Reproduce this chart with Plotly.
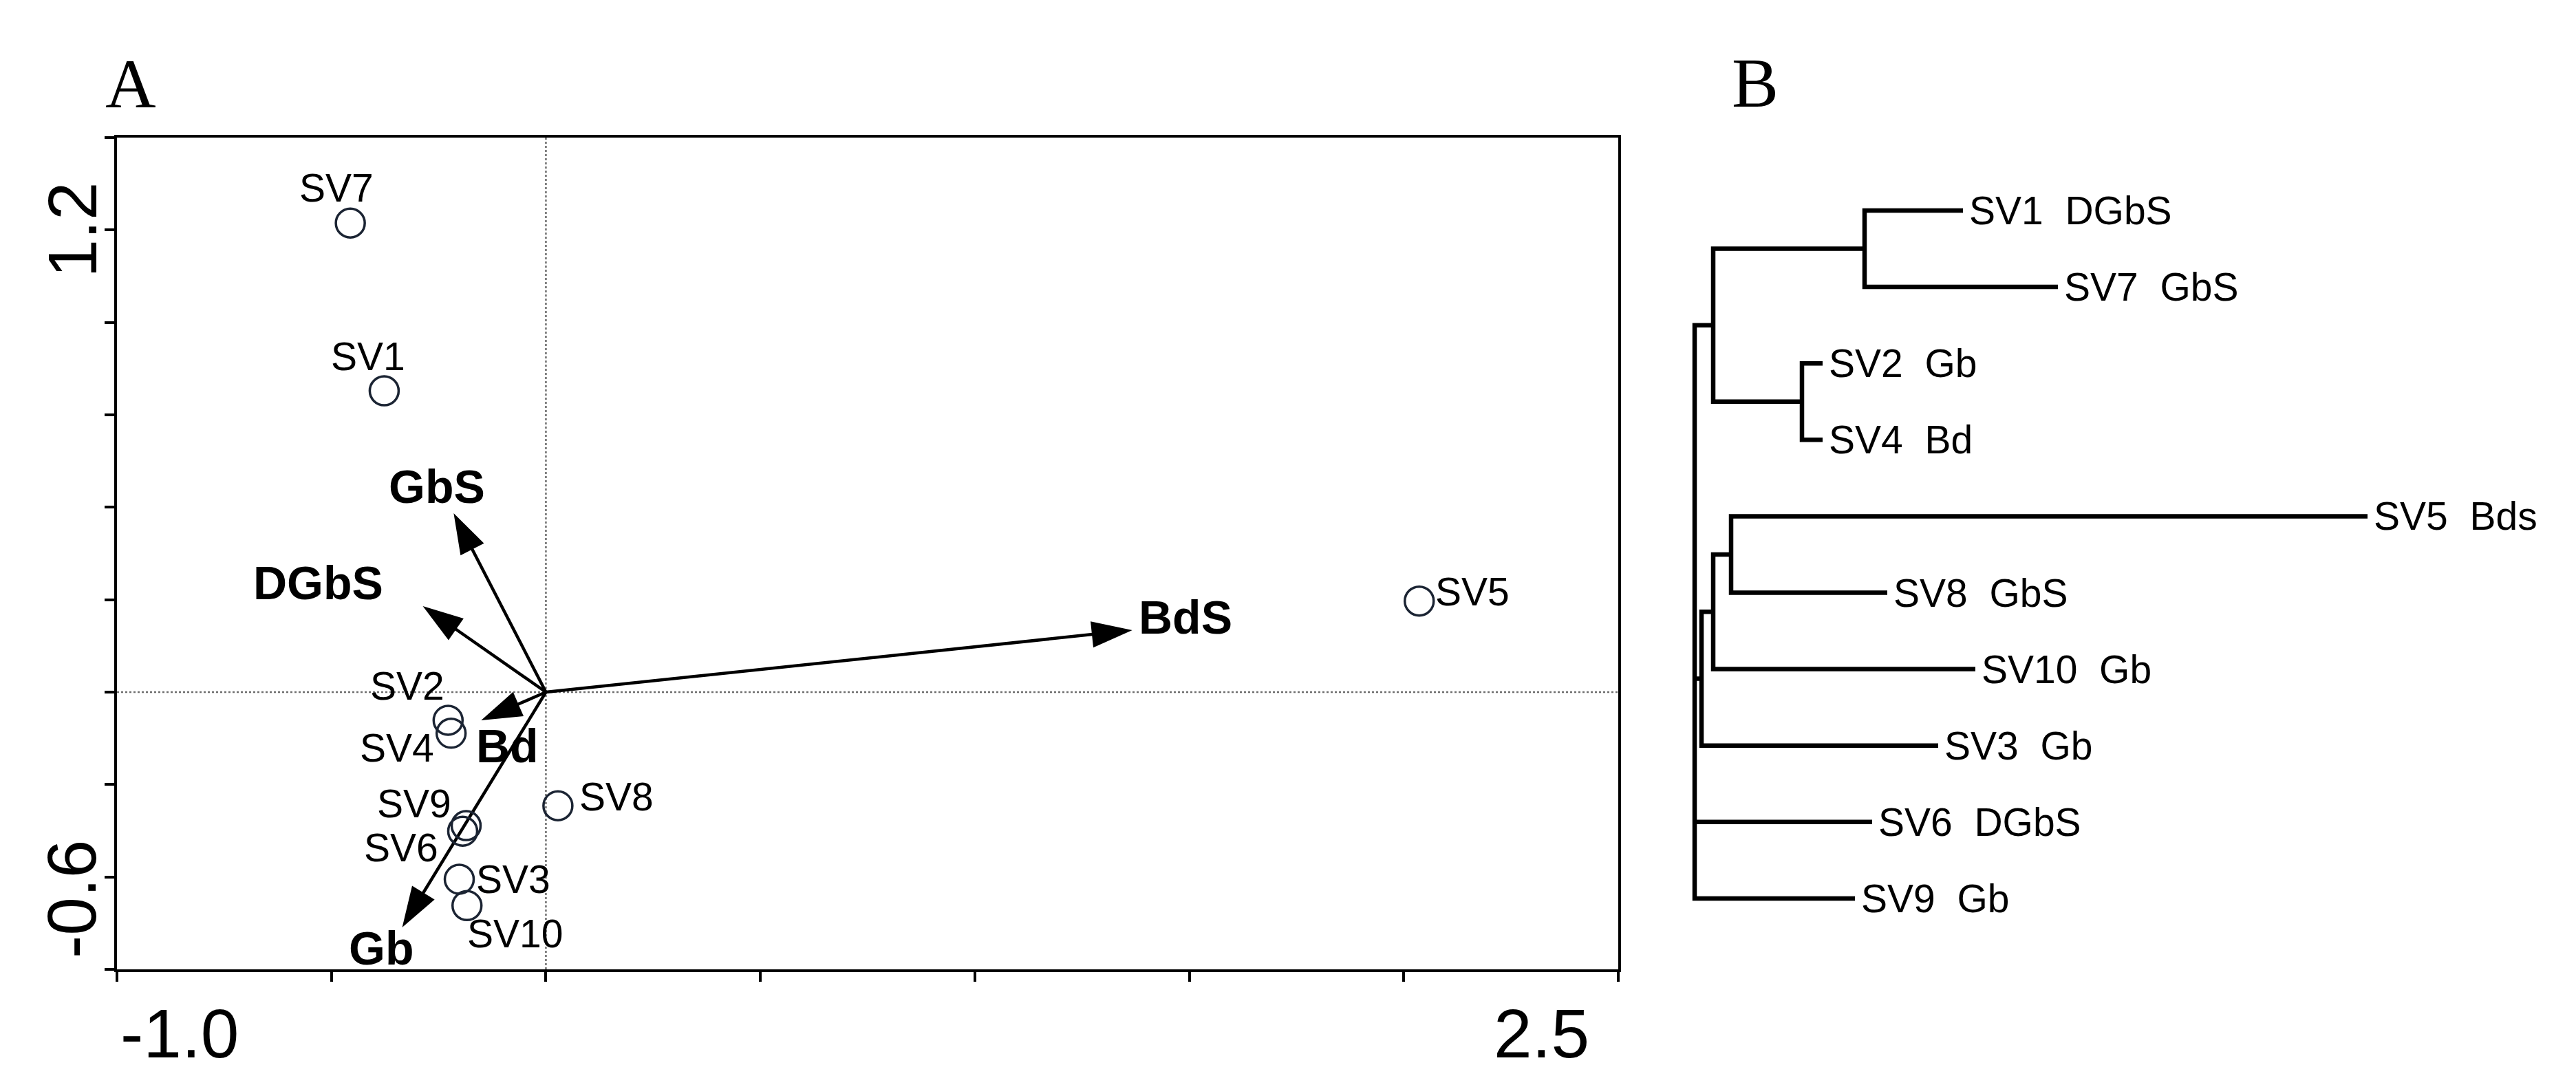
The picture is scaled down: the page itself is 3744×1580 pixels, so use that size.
import plotly.graph_objects as go

# ---------------- Panel A data (ordination biplot) ----------------
samples = ['SV1', 'SV2', 'SV3', 'SV4', 'SV5', 'SV6', 'SV7', 'SV8', 'SV9', 'SV10']
sample_x = [-0.377, -0.228, -0.202, -0.221, 2.036, -0.194, -0.456, 0.028, -0.186, -0.184]
sample_y = [0.652, -0.061, -0.405, -0.089, 0.197, -0.301, 1.015, -0.246, -0.289, -0.462]

env_vars = ['GbS', 'DGbS', 'BdS', 'Bd', 'Gb']
env_x = [-0.215, -0.287, 1.367, -0.151, -0.335]
env_y = [0.387, 0.186, 0.134, -0.061, -0.509]

x_range = [-1.0, 2.5]
y_range = [-0.6, 1.2]
x_tick_text = ['-1.0', '2.5']
y_tick_text = ['-0.6', '1.2']

# ---------------- Panel B data (cluster dendrogram) ----------------
leaf_names = ['SV1', 'SV7', 'SV2', 'SV4', 'SV5', 'SV8', 'SV10', 'SV3', 'SV6', 'SV9']
leaf_groups = ['DGbS', 'GbS', 'Gb', 'Bd', 'Bds', 'GbS', 'Gb', 'Gb', 'DGbS', 'Gb']
leaf_dist = [3.90, 5.28, 1.86, 1.86, 9.78, 2.80, 4.08, 3.54, 2.58, 2.33]
node_names = ['N2', 'N3', 'N1', 'N6', 'N5', 'N4', 'root']
node_children = [['SV1', 'SV7'], ['SV2', 'SV4'], ['N2', 'N3'], ['SV5', 'SV8'],
                 ['N6', 'SV10'], ['N5', 'SV3'], ['N1', 'N4', 'SV6', 'SV9']]
node_dist = [2.47, 1.56, 0.27, 0.53, 0.27, 0.10, 0.0]

# ---------------- layout constants (pixels) ----------------
W, H = 3744, 1580
A_L, A_R, A_T, A_B = 170, 2352, 200, 1409
B_X0 = 2400            # left edge of panel B domain
B_ROOT_PX = 2463       # pixel of dendrogram root
B_UNIT_PX = 100.0      # pixels per distance unit
B_LEAF0_PX = 306       # y pixel of first leaf
B_LEAF_STEP = 111.1    # y pixel spacing of leaves

FONT = "Arial, 'Liberation Sans', sans-serif"
SERIF = "'Times New Roman', 'Liberation Serif', serif"

sample_label_offset = {'SV1': (-23, -50), 'SV2': (-59, -50), 'SV3': (78, 0), 'SV4': (-79, 21),
                       'SV5': (77, -14), 'SV6': (-89, 24), 'SV7': (-20, -51), 'SV8': (85, -13),
                       'SV9': (-75, -32), 'SV10': (70, 41)}
env_label_offset = {'GbS': (-24, -39), 'DGbS': (-152, -34), 'BdS': (77, -19),
                    'Bd': (38, 37), 'Gb': (-31, 30)}

fig = go.Figure()

# arrows (environmental variables)
for name, ex, ey in zip(env_vars, env_x, env_y):
    fig.add_trace(go.Scatter(
        x=[0, ex], y=[0, ey], mode='lines+markers', xaxis='x', yaxis='y',
        line=dict(color='black', width=4.5),
        marker=dict(symbol='arrow', size=[0, 62], angleref='previous', color='black',
                    opacity=1, line=dict(width=0)),
        showlegend=False, hoverinfo='skip'))

# sample points
fig.add_trace(go.Scatter(
    x=sample_x, y=sample_y, mode='markers', xaxis='x', yaxis='y',
    marker=dict(symbol='circle', size=42, color='rgba(0,0,0,0)',
                line=dict(color='#1b2433', width=3.5)),
    showlegend=False, hoverinfo='skip'))

annotations = []
for s, sx, sy in zip(samples, sample_x, sample_y):
    dx, dy = sample_label_offset[s]
    annotations.append(dict(x=sx, y=sy, xref='x', yref='y', text=s, showarrow=False,
                            xanchor='center', yanchor='middle', xshift=dx, yshift=-dy,
                            font=dict(family=FONT, size=57, color='black')))
for v, vx, vy in zip(env_vars, env_x, env_y):
    dx, dy = env_label_offset[v]
    annotations.append(dict(x=vx, y=vy, xref='x', yref='y', text='<b>%s</b>' % v, showarrow=False,
                            xanchor='center', yanchor='middle', xshift=dx, yshift=-dy,
                            font=dict(family=FONT, size=68, color='black')))

# axis end labels
annotations.append(dict(x=x_range[0], y=0, xref='x', yref='y domain', text=x_tick_text[0],
                        showarrow=False, xanchor='left', yanchor='middle', xshift=3, yshift=-93,
                        font=dict(family=FONT, size=100, color='black')))
annotations.append(dict(x=x_range[1], y=0, xref='x', yref='y domain', text=x_tick_text[1],
                        showarrow=False, xanchor='right', yanchor='middle', xshift=-40, yshift=-93,
                        font=dict(family=FONT, size=100, color='black')))
annotations.append(dict(x=0, y=y_range[0], xref='x domain', yref='y', text=y_tick_text[0],
                        showarrow=False, xanchor='center', yanchor='bottom', textangle=-90,
                        xshift=-66, yshift=14, font=dict(family=FONT, size=100, color='black')))
annotations.append(dict(x=0, y=y_range[1], xref='x domain', yref='y', text=y_tick_text[1],
                        showarrow=False, xanchor='center', yanchor='top', textangle=-90,
                        xshift=-66, yshift=-63, font=dict(family=FONT, size=100, color='black')))

# panel letters
annotations.append(dict(x=190 / W, y=1 - 122 / H, xref='paper', yref='paper', text='A',
                        showarrow=False, xanchor='center', yanchor='middle',
                        font=dict(family=SERIF, size=102, color='black')))
annotations.append(dict(x=2551 / W, y=1 - 121 / H, xref='paper', yref='paper', text='B',
                        showarrow=False, xanchor='center', yanchor='middle',
                        font=dict(family=SERIF, size=102, color='black')))

# ---------------- dendrogram ----------------
pos_x, pos_y = {}, {}
for i, (n, d) in enumerate(zip(leaf_names, leaf_dist)):
    pos_x[n], pos_y[n] = d, i
for n, ch, d in zip(node_names, node_children, node_dist):
    pos_x[n] = d
    pos_y[n] = (pos_y[ch[0]] + pos_y[ch[-1]]) / 2.0

seg_x, seg_y = [], []
for n, ch in zip(node_names, node_children):
    nx = pos_x[n]
    first, last = ch[0], ch[-1]
    seg_x += [pos_x[first], nx, nx, pos_x[last], None]
    seg_y += [pos_y[first], pos_y[first], pos_y[last], pos_y[last], None]
    for c in ch[1:-1]:
        seg_x += [nx, pos_x[c], None]
        seg_y += [pos_y[c], pos_y[c], None]

fig.add_trace(go.Scatter(x=seg_x, y=seg_y, mode='lines', xaxis='x2', yaxis='y2',
                         line=dict(color='black', width=6.5), showlegend=False,
                         hoverinfo='skip', connectgaps=False))

for n, g, d in zip(leaf_names, leaf_groups, leaf_dist):
    annotations.append(dict(x=d, y=pos_y[n], xref='x2', yref='y2',
                            text='%s\u00a0\u00a0%s' % (n, g), showarrow=False,
                            xanchor='left', yanchor='middle', xshift=7,
                            font=dict(family=FONT, size=57, color='black')))

shapes = [
    dict(type='line', xref='x', yref='y domain', x0=0, x1=0, y0=0, y1=1, layer='below',
         line=dict(color='#6e6e6e', width=2.5, dash='dot')),
    dict(type='line', xref='x domain', yref='y', x0=0, x1=1, y0=0, y1=0, layer='below',
         line=dict(color='#6e6e6e', width=2.5, dash='dot')),
]

axis_common = dict(showline=True, linecolor='black', linewidth=4, mirror=True,
                   ticks='outside', ticklen=14, tickwidth=4, tickcolor='black',
                   showticklabels=False, showgrid=False, zeroline=False, tickmode='linear')

fig.update_layout(
    width=W, height=H, autosize=False,
    margin=dict(l=0, r=0, t=0, b=0, pad=0),
    paper_bgcolor='white', plot_bgcolor='rgba(0,0,0,0)',
    hovermode=False,
    xaxis=dict(domain=[A_L / W, A_R / W], range=x_range, anchor='y', tick0=-1.0, dtick=0.5,
               **axis_common),
    yaxis=dict(domain=[1 - A_B / H, 1 - A_T / H], range=y_range, anchor='x', tick0=-0.6,
               dtick=0.2, **axis_common),
    xaxis2=dict(domain=[B_X0 / W, 1.0],
                range=[(B_X0 - B_ROOT_PX) / B_UNIT_PX, (W - B_ROOT_PX) / B_UNIT_PX],
                visible=False, anchor='y2'),
    yaxis2=dict(domain=[0, 1],
                range=[(H - B_LEAF0_PX) / B_LEAF_STEP, -B_LEAF0_PX / B_LEAF_STEP],
                visible=False, anchor='x2'),
    annotations=annotations,
    shapes=shapes,
)

fig.write_html("out.html", config={'displayModeBar': False},
               post_script="document.body.style.margin='0';document.body.style.overflow='hidden';")
